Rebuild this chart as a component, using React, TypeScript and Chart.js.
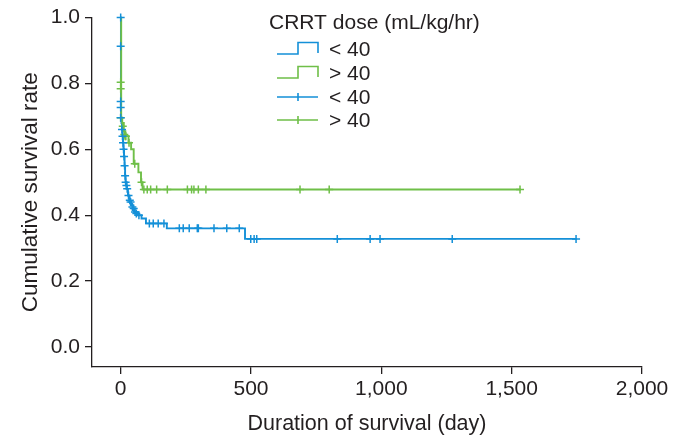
import React, { useEffect, useRef } from "react";
import { Chart, registerables } from "chart.js";

Chart.register(...registerables);

// ---- Data ----
const xTicks = [0, 500, 1000, 1500, 2000];
const yTicks = [0, 0.2, 0.4, 0.6, 0.8, 1.0];

const legendTitle = "CRRT dose (mL/kg/hr)";
const groupLabels = ["< 40", "> 40"];

// Kaplan-Meier steps, group < 40
const lowDays = [0, 1, 3, 5, 7, 9, 11, 13, 15, 17, 19, 23, 28, 33, 40, 46, 53, 65, 80, 97, 177, 477, 1750];
const lowSurv = [1.0, 0.696, 0.68, 0.66, 0.64, 0.62, 0.6, 0.578, 0.55, 0.52, 0.5, 0.48, 0.46, 0.44, 0.43, 0.42, 0.41, 0.4, 0.39, 0.375, 0.36, 0.328, 0.328];
// censored observations, group < 40
const lowCensDays = [0, 0, 0, 0, 0, 5, 7, 9, 11, 13, 15, 17, 19, 22, 25, 30, 35, 38, 45, 50, 55, 60, 70, 110, 125, 144, 166, 225, 240, 263, 294, 298, 358, 407, 455, 499, 512, 522, 831, 957, 995, 1272, 1747];
const lowCensSurv = [1.0, 0.913, 0.745, 0.727, 0.696, 0.66, 0.64, 0.62, 0.6, 0.578, 0.55, 0.52, 0.5, 0.49, 0.48, 0.46, 0.445, 0.44, 0.425, 0.42, 0.41, 0.405, 0.4, 0.375, 0.375, 0.375, 0.375, 0.36, 0.36, 0.36, 0.36, 0.36, 0.36, 0.36, 0.36, 0.328, 0.328, 0.328, 0.328, 0.328, 0.328, 0.328, 0.328];

// Kaplan-Meier steps, group > 40
const highDays = [0, 2, 6, 12, 18, 30, 40, 50, 68, 78, 84, 1535];
const highSurv = [1.0, 0.696, 0.68, 0.655, 0.64, 0.62, 0.6, 0.556, 0.53, 0.5, 0.478, 0.478];
// censored observations, group > 40
const highCensDays = [0, 0, 0, 8, 14, 17, 20, 32, 54, 80, 89, 102, 115, 138, 179, 256, 272, 281, 298, 327, 688, 800, 1532];
const highCensSurv = [0.804, 0.784, 0.696, 0.67, 0.645, 0.64, 0.64, 0.62, 0.556, 0.5, 0.478, 0.478, 0.478, 0.478, 0.478, 0.478, 0.478, 0.478, 0.478, 0.478, 0.478, 0.478, 0.478];

const BLUE = "#1490d8";
const GREEN = "#6fbf48";
const INK = "#231f20";
const FONT = "'Liberation Sans', Arial, Helvetica, sans-serif";

const pts = (xs: number[], ys: number[]) => xs.map((x, i) => ({ x, y: ys[i] }));

const legendPlugin = {
  id: "kmLegend",
  afterDraw(chart: any) {
    const ctx = chart.ctx as CanvasRenderingContext2D;
    ctx.save();
    ctx.fillStyle = INK;
    ctx.font = `21px ${FONT}`;
    ctx.textBaseline = "middle";
    ctx.textAlign = "left";
    ctx.fillText(legendTitle, 269, 23);

    const x0 = 277, xm = 298, x1 = 318, tx = 329;
    const rows = [
      { y: 49, color: BLUE, kind: "step", label: groupLabels[0] },
      { y: 73, color: GREEN, kind: "step", label: groupLabels[1] },
      { y: 97, color: BLUE, kind: "line", label: groupLabels[0] },
      { y: 120, color: GREEN, kind: "line", label: groupLabels[1] },
    ];
    ctx.lineWidth = 1.6;
    for (const r of rows) {
      ctx.strokeStyle = r.color;
      ctx.beginPath();
      if (r.kind === "step") {
        const bot = r.y + 5, top = r.y - 6.5;
        ctx.moveTo(x0, bot);
        ctx.lineTo(xm, bot);
        ctx.lineTo(xm, top);
        ctx.lineTo(x1, top);
        ctx.lineTo(x1, bot - 1);
      } else {
        ctx.moveTo(x0, r.y);
        ctx.lineTo(x1, r.y);
        ctx.moveTo(xm, r.y - 4);
        ctx.lineTo(xm, r.y + 4);
      }
      ctx.stroke();
      ctx.fillStyle = INK;
      ctx.font = `21px ${FONT}`;
      ctx.fillText(r.label, tx, r.y + 1);
    }
    ctx.restore();
  },
};

export default function App() {
  const ref = useRef<HTMLCanvasElement | null>(null);

  useEffect(() => {
    if (!ref.current) return;
    const chart = new Chart(ref.current, {
      type: "line",
      data: {
        datasets: [
          {
            label: "censor < 40",
            data: pts(lowCensDays, lowCensSurv),
            showLine: false,
            pointStyle: "cross",
            pointRadius: 4,
            pointBorderWidth: 1.5,
            pointBorderColor: BLUE,
            borderColor: BLUE,
            order: 0,
            clip: false as any,
          },
          {
            label: "censor > 40",
            data: pts(highCensDays, highCensSurv),
            showLine: false,
            pointStyle: "cross",
            pointRadius: 4,
            pointBorderWidth: 1.5,
            pointBorderColor: GREEN,
            borderColor: GREEN,
            order: 1,
            clip: false as any,
          },
          {
            label: "> 40",
            data: pts(highDays, highSurv),
            stepped: "before",
            borderColor: GREEN,
            borderWidth: 1.9,
            pointRadius: 0,
            fill: false,
            order: 2,
            clip: false as any,
          },
          {
            label: "< 40",
            data: pts(lowDays, lowSurv),
            stepped: "before",
            borderColor: BLUE,
            borderWidth: 1.9,
            pointRadius: 0,
            fill: false,
            order: 3,
            clip: false as any,
          },
        ],
      },
      options: {
        animation: false,
        responsive: false,
        devicePixelRatio: 1,
        layout: { padding: { top: 14, right: 44, bottom: 0, left: 0 } },
        plugins: {
          legend: { display: false },
          tooltip: { enabled: false },
        },
        scales: {
          x: {
            type: "linear",
            min: -110,
            max: 2000,
            afterBuildTicks: (s: any) => {
              s.ticks = xTicks.map((v) => ({ value: v }));
            },
            afterFit: (s: any) => {
              s.height = 70;
            },
            grid: { drawOnChartArea: false, drawTicks: true, tickLength: 7, color: INK, lineWidth: 1.3 },
            border: { display: true, color: INK, width: 1.3 },
            ticks: {
              autoSkip: false,
              maxRotation: 0,
              padding: 3,
              color: INK,
              font: { family: FONT, size: 21 },
              callback: (v: any) => Number(v).toLocaleString("en-US"),
            },
            title: {
              display: true,
              text: "Duration of survival (day)",
              color: INK,
              font: { family: FONT, size: 21.5 },
              padding: { top: 0, bottom: 0 },
            },
          },
          y: {
            type: "linear",
            min: -0.061,
            max: 1.0,
            afterBuildTicks: (s: any) => {
              s.ticks = yTicks.map((v) => ({ value: v }));
            },
            afterFit: (s: any) => {
              s.width = 92;
            },
            grid: { drawOnChartArea: false, drawTicks: true, tickLength: 7, color: INK, lineWidth: 1.3 },
            border: { display: true, color: INK, width: 1.3 },
            ticks: {
              autoSkip: false,
              padding: 5,
              color: INK,
              font: { family: FONT, size: 21 },
              callback: (v: any) => Number(v).toFixed(1),
            },
            title: {
              display: true,
              text: "Cumulative survival rate",
              color: INK,
              font: { family: FONT, size: 22.5 },
              padding: { top: 17, bottom: 0 },
            },
          },
        },
      },
      plugins: [legendPlugin],
    });
    return () => chart.destroy();
  }, []);

  return (
    <div style={{ position: "fixed", left: 0, top: 0, width: 686, height: 437, background: "#fff" }}>
      <canvas ref={ref} width={686} height={437} style={{ width: 686, height: 437, display: "block" }} />
    </div>
  );
}
